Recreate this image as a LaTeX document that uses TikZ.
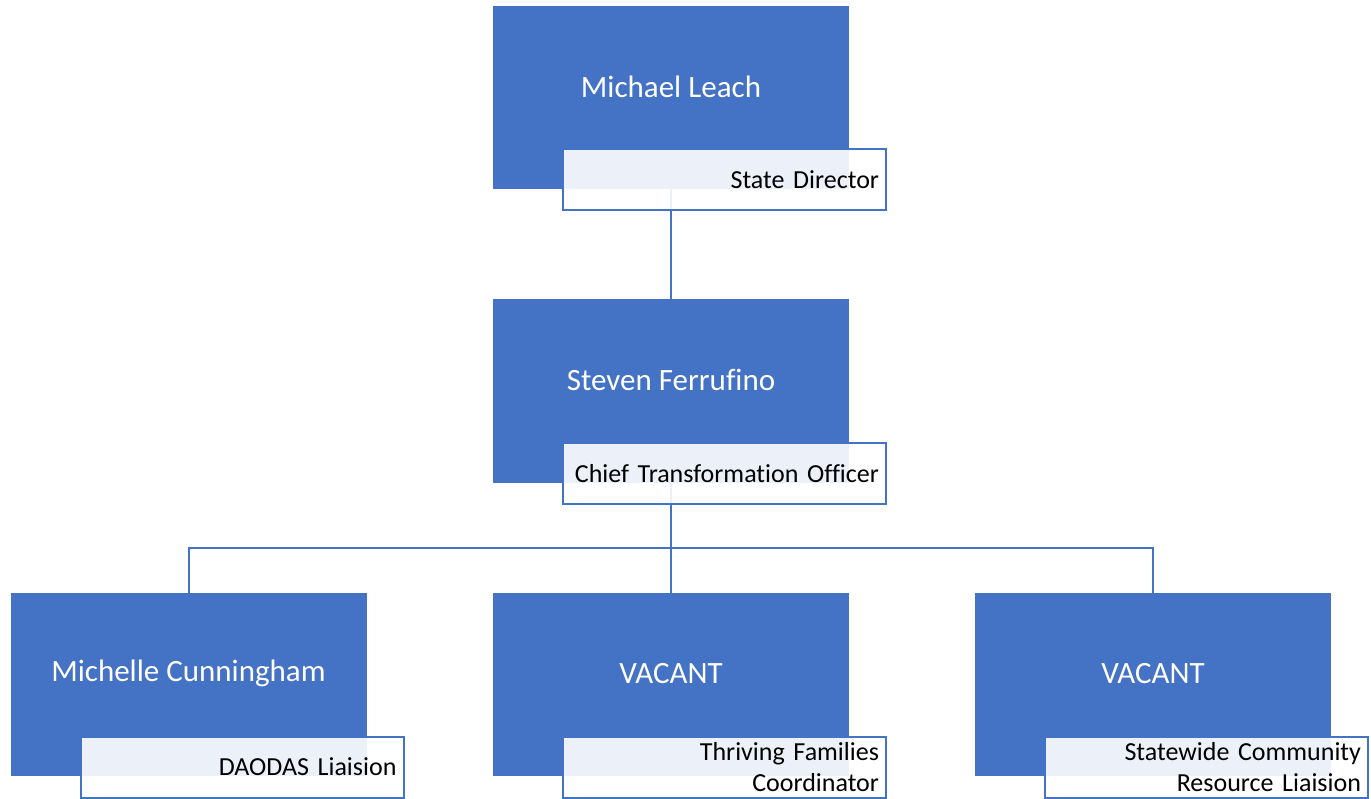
\documentclass[tikz,border=0pt]{standalone}
\usepackage{fontspec}
\setmainfont{Carlito}[Ligatures=NoCommon]
\definecolor{obl}{HTML}{4472C4}
\begin{document}
\begin{tikzpicture}[x=1pt,y=-1pt,
  person/.style={rectangle, fill=obl, draw=none, minimum width=356pt, minimum height=183pt, inner sep=0pt},
  nametext/.style={text=white, font=\fontsize{31}{36}\selectfont, inner sep=0pt},
  role/.style={rectangle, draw=obl, line width=2pt, fill=white, fill opacity=0.9, text opacity=1,
     minimum width=323pt, minimum height=61pt, text width=309pt, align=right, inner xsep=7pt, inner ysep=0pt,
     font=\fontsize{26}{31}\selectfont, text=black},
  conn/.style={draw=obl, line width=2pt}]
\useasboundingbox (0,0) rectangle (1371,799);
% person boxes
\node[person] (ml) at (671,97.5) {};
\node[person] (sf) at (671,391) {};
\node[person] (mc) at (188.5,684.5) {};
\node[person] (v1) at (671,684.5) {};
\node[person] (v2) at (1153,684.5) {};
% names
\node[nametext] (mlname) at ([yshift=11pt]ml.center) {Michael Leach};
\node[nametext] (sfname) at ([yshift=11pt]sf.center) {Steven Ferrufino};
\node[nametext] (mcname) at ([yshift=11pt]mc.center) {Michelle Cunningham};
\node[nametext] (v1name) at ([yshift=11pt]v1.center) {VACANT};
\node[nametext] (v2name) at ([yshift=11pt]v2.center) {VACANT};
% connectors
\coordinate (bar) at (671,548);
\draw[conn] (ml.south) -- (sf.north);
\draw[conn] (sf.south) -- (v1.north);
\draw[conn] (mc.north) |- (bar);
\draw[conn] (v2.north) |- (bar);
% role boxes
\node[role] (mlrole) at ([xshift=53.5pt,yshift=-82.5pt]ml.center) {State Director};
\node[role] (sfrole) at ([xshift=53.5pt,yshift=-82.5pt]sf.center) {Chief Transformation Officer};
\node[role] (mcrole) at ([xshift=53.5pt,yshift=-82.5pt]mc.center) {DAODAS Liaision};
\node[role] (v1role) at ([xshift=53.5pt,yshift=-82.5pt]v1.center) {Thriving Families\\Coordinator};
\node[role] (v2role) at ([xshift=53.5pt,yshift=-82.5pt]v2.center) {Statewide Community\\Resource Liaision};
\end{tikzpicture}
\end{document}
